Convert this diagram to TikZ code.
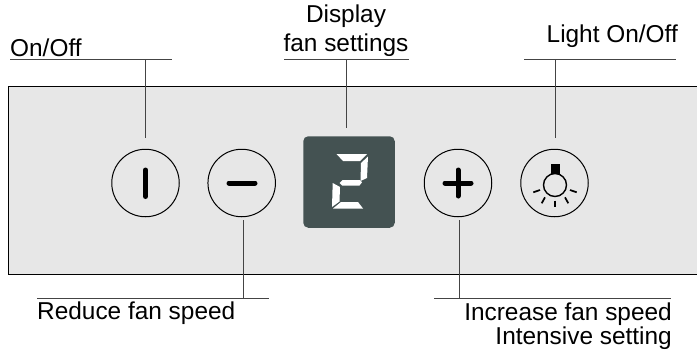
\documentclass[tikz,border=0pt]{standalone}
\usepackage{fontspec}
\setmainfont{Liberation Sans}
\definecolor{panelgray}{HTML}{E7E7E7}
\definecolor{displaygray}{HTML}{445252}
\definecolor{leadergray}{HTML}{444444}
\tikzset{
  labeltext/.style={inner sep=0pt, font=\fontsize{24.4}{29}\selectfont},
  button/.style={circle, draw, line width=1pt, inner sep=0pt, minimum size=67.5pt},
  leader/.style={leadergray, line width=1pt},
  bar/.style={line width=5pt, line cap=round},
  ray/.style={line width=1.7pt},
  segment/.style={fill=white, draw=none}
}

\begin{document}
\begin{tikzpicture}[x=1pt, y=-1pt]
      \useasboundingbox (0, 0) rectangle (697, 351);

      % panel, open at the right edge
      \fill[panelgray] (8.5, 86) rectangle (697, 274.5);
      \draw[line width=1pt] (697, 86) -- (8.5, 86) -- (8.5, 274.5) -- (697, 274.5);

      \node[button] (onoff) at (145.5, 183) {};
      \node[button] (minus) at (241.7, 183) {};
      \node[button] (plus) at (458, 183) {};
      \node[button] (light) at (554.5, 183) {};
      \node[fill=displaygray, rounded corners=5pt, inner sep=0pt, minimum size=91.5pt] (display) at (349, 182) {};

      \draw[bar] (145.5, 170) -- (145.5, 196.5);
      \draw[bar] (229, 183) -- (255, 183);
      \draw[bar] (445, 183) -- (471, 183);
      \draw[bar] (458, 170) -- (458, 196);

      % digit
      \fill[segment] (336.5, 154) -- (367, 154) -- (360, 161) -- (343, 161) -- cycle;
      \fill[segment] (368, 156.5) -- (367, 178) -- (360.5, 181) -- (361, 163) -- cycle;
      \fill[segment] (339.5, 183) -- (342.5, 180) -- (360, 180) -- (362, 182.3) -- (359.5, 185.5) -- (342, 185.5) -- cycle;
      \fill[segment] (332.7, 183) -- (340, 187) -- (339.5, 201.5) -- (332, 207) -- cycle;
      \fill[segment] (333, 208.5) -- (341, 202) -- (358, 202) -- (363, 208.5) -- cycle;

      % bulb
      \node[circle, draw, line width=1.4pt, inner sep=0pt, minimum size=23pt] (bulb) at (555, 185) {};
      \fill (550.7, 163.5) rectangle (560, 173.5);
      \draw[ray] (533.3, 192.3) -- (540, 190);
      \draw[ray] (541.7, 203.3) -- (545, 197.3);
      \draw[ray] (555, 200.7) -- (555, 207.3);
      \draw[ray] (568.3, 203.3) -- (565, 197.3);
      \draw[ray] (576.7, 192.3) -- (570, 190);

      \node[labeltext, anchor=base west] (onofftext) at (10, 56) {On/Off};
      \node[labeltext, anchor=south, align=center] (displaytext) at (346, 57) {Display\\fan settings};
      \node[labeltext, anchor=base east] (lighttext) at (678, 42) {Light On/Off};
      \node[labeltext, anchor=base west] (reducetext) at (37, 319.5) {Reduce fan speed};
      \node[labeltext, anchor=north east, align=right, font=\fontsize{24.4}{24.5}\selectfont] (increasetext) at (672, 302.5) {Increase fan speed\\Intensive setting};

      \coordinate (onoffa) at (10, 59.5);
      \coordinate (onoffb) at (172, 59.5);
      \coordinate (onoffc) at (145.5, 59.5);
      \coordinate (onoffd) at (145.5, 137.5);
      \coordinate (displaya) at (284, 59.5);
      \coordinate (displayb) at (409, 59.5);
      \coordinate (displayc) at (346, 59.5);
      \coordinate (displayd) at (346, 128);
      \coordinate (lighta) at (524, 59.5);
      \coordinate (lightb) at (676, 59.5);
      \coordinate (lightc) at (555.5, 59.5);
      \coordinate (lightd) at (555.5, 138);
      \coordinate (reducea) at (37, 298.5);
      \coordinate (reduceb) at (269, 298.5);
      \coordinate (reducec) at (243.5, 298.5);
      \coordinate (reduced) at (243.5, 220);
      \coordinate (increasea) at (434, 298.5);
      \coordinate (increaseb) at (671, 298.5);
      \coordinate (increasec) at (459, 298.5);
      \coordinate (increased) at (459, 220);

      \draw[leader] (onoffa) -- (onoffb);
      \draw[leader] (onoffc) -- (onoffd);
      \draw[leader] (displaya) -- (displayb);
      \draw[leader] (displayc) -- (displayd);
      \draw[leader] (lighta) -- (lightb);
      \draw[leader] (lightc) -- (lightd);
      \draw[leader] (reducea) -- (reduceb);
      \draw[leader] (reducec) -- (reduced);
      \draw[leader] (increasea) -- (increaseb);
      \draw[leader] (increasec) -- (increased);
    \end{tikzpicture}
\end{document}
